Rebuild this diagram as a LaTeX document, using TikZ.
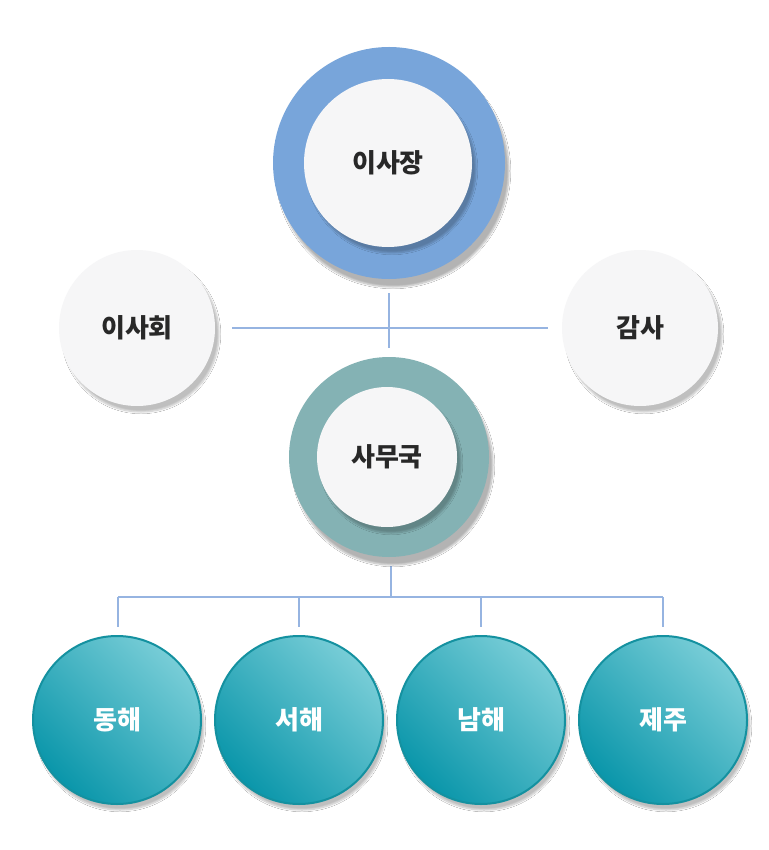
\documentclass[tikz,border=0pt]{standalone}
\usepackage{fontspec}
\newfontfamily\kr{Noto Sans CJK KR}
\usetikzlibrary{shadows.blur}
\begin{document}
\begin{tikzpicture}[x=1pt,y=-1pt,
  conn/.style={draw=blue!30!cyan!40!gray!80, line width=1.2pt, color={rgb,255:red,150;green,180;blue,225}},
  soft/.style={circle, fill={rgb,255:red,246;green,246;blue,247}, blur shadow={shadow xshift=4pt,shadow yshift=-6pt,shadow blur steps=8,shadow opacity=25}},
  lbl/.style={font=\kr\bfseries\fontsize{26}{30}\selectfont, text={rgb,255:red,40;green,40;blue,40}},
  sea/.style={circle, minimum size=168pt, draw={rgb,255:red,20;green,145;blue,160}, line width=2pt,
    left color={rgb,255:red,10;green,150;blue,170}, right color={rgb,255:red,120;green,205;blue,215}, shading angle=135,
    blur shadow={shadow xshift=3pt,shadow yshift=-6pt,shadow blur steps=8,shadow opacity=25},
    font=\kr\bfseries\fontsize{26}{30}\selectfont, text=white}]
\useasboundingbox (0,0) rectangle (768,850);
\fill[white] (0,0) rectangle (768,850);
% connectors
\coordinate (hl) at (232,328); \coordinate (hr) at (548,328);
\coordinate (vt) at (389,293); \coordinate (vb) at (389,348);
\draw[conn] (hl) -- (hr); \draw[conn] (vt) -- (vb);
\coordinate (s1) at (391,566); \coordinate (s2) at (391,597);
\coordinate (b1) at (118,597); \coordinate (b4) at (663,597);
\draw[conn] (s1) -- (s2); \draw[conn] (b1) -- (b4);
\foreach \x in {118,299,481,663}{\coordinate (d\x) at (\x,597); \coordinate (e\x) at (\x,627); \draw[conn] (d\x) -- (e\x);}
% top
\node[circle, minimum size=232pt, fill={rgb,255:red,120;green,165;blue,218}, blur shadow={shadow xshift=4pt,shadow yshift=-8pt,shadow blur steps=8,shadow opacity=30}] (topo) at (389,163) {};
\node[soft, minimum size=168pt, lbl] (top) at (388,163) {이사장};
% side
\node[soft, minimum size=156pt, lbl] (left) at (137,328) {이사회};
\node[soft, minimum size=156pt, lbl] (right) at (640,328) {감사};
% mid
\node[circle, minimum size=200pt, fill={rgb,255:red,132;green,178;blue,180}, blur shadow={shadow xshift=4pt,shadow yshift=-8pt,shadow blur steps=8,shadow opacity=30}] (mido) at (389,457) {};
\node[soft, minimum size=140pt, lbl] (mid) at (387,457) {사무국};
% bottom
\node[sea] (n1) at (117,720) {동해};
\node[sea] (n2) at (299,720) {서해};
\node[sea] (n3) at (481,720) {남해};
\node[sea] (n4) at (663,720) {제주};
\end{tikzpicture}
\end{document}
